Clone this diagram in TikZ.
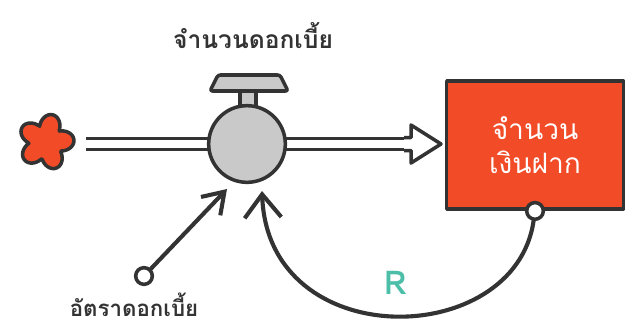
\documentclass[tikz,border=0pt]{standalone}
\usepackage{fontspec}
\newfontfamily\thaifont[Script=Thai]{Loma}
\usetikzlibrary{arrows.meta,calc}

\definecolor{ink}{HTML}{333333}
\definecolor{stockred}{HTML}{F24B27}
\definecolor{valvegray}{HTML}{C9C9C9}
\definecolor{loopteal}{HTML}{4DBFA9}

\tikzset{
  outline/.style={draw=ink,line width=3pt,line join=round},
  pipe/.style={draw=ink,line width=2.5pt,double=white,double distance=0.25cm},
  valve/.style={circle,outline,fill=valvegray,minimum size=2.3cm},
  stock/.style={rectangle,outline,fill=stockred,minimum width=5.3cm,minimum height=3.85cm,
    align=center,text=white,font=\thaifont\fontsize{24}{29}\selectfont},
  dot/.style={circle,draw=ink,line width=3pt,fill=white,minimum size=0.5cm,inner sep=0pt},
  thailabel/.style={text=ink,font=\thaifont\bfseries\fontsize{19}{22}\selectfont},
  link/.style={draw=ink,line width=3.5pt,line cap=round},
}

\begin{document}
\begin{tikzpicture}[x=0.03cm,y=-0.03cm]
\useasboundingbox (0,0) rectangle (626,326);

% Cloud (source)
\coordinate (cloud) at (46,142);
\filldraw[outline,fill=stockred] plot[domain=0:360,samples=120,smooth]
  ({46+(17+11*abs(cos(2.5*\x+10)))*cos(\x)},{142+(17+11*abs(cos(2.5*\x+10)))*sin(\x)}) -- cycle;

% Flow pipe into the valve
\coordinate (pipestart) at (86,144);
\draw[pipe] (pipestart) -- (247,144);

% Flow pipe out to the stock
\coordinate (tip) at (441,144);
\draw[pipe] (247,144) -- (411,144);
\filldraw[outline,line width=3pt,fill=white]
  (404,137.5) -- (411,137.5) -- (411,125) -- (tip) -- (411,163) -- (411,150.5) -- (404,150.5);

% Valve
\filldraw[outline,fill=valvegray] (240,108) rectangle (256,91);
\filldraw[outline,fill=valvegray,rounded corners=2pt] (210,91) -- (218,75) -- (280,75) -- (288,91) -- cycle;
\node[valve] (valve) at (247,144) {};
\node[thailabel,font=\thaifont\bfseries\fontsize{21}{24}\selectfont] (flowlabel) at (253,36) {จำนวนดอกเบี้ย};

% Stock
\node[stock] (stock) at (535,145) {จำนวน\\เงินฝาก};
\node[dot] (stockdot) at (stock.south) {};

% Rate converter
\node[dot] (rate) at (144,276) {};
\node[thailabel] (ratelabel) at (134,305) {อัตราดอกเบี้ย};
\coordinate (ratetip) at (227,189);
\draw[link,-{Straight Barb[length=6mm,width=8mm]}] (rate) -- (ratetip);

% Feedback loop
\coordinate (looptip) at (262,191);
\draw[link,-{Straight Barb[length=7mm,width=11mm]}]
  (stockdot) .. controls (515,350) and (268,355) .. (looptip);
\node[text=loopteal,font=\thaifont\bfseries\fontsize{28}{32}\selectfont] (loop) at (396,283) {R};
\end{tikzpicture}
\end{document}
